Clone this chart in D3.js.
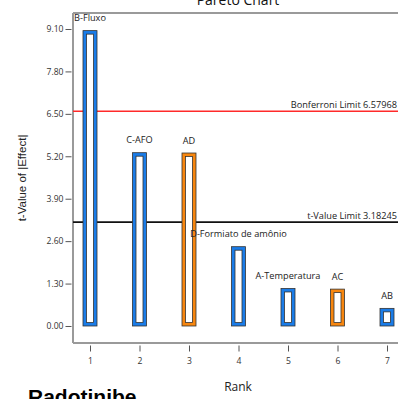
<!DOCTYPE html>
<html>
<head>
<meta charset="utf-8">
<script src="https://cdn.jsdelivr.net/npm/d3@7"></script>
<style>
  html, body { margin: 0; padding: 0; background: #fff; overflow: hidden; }
  svg { display: block; }
</style>
</head>
<body>
<div id="chart"></div>
<script>
// Effects ranked by |t|, with the two significance limits
const ranks = [1, 2, 3, 4, 5, 6, 7];
const effectNames = ["B-Fluxo", "C-AFO", "AD", "D-Formiato de amônio", "A-Temperatura", "AC", "AB"];
const tValues = [9.05, 5.31, 5.30, 2.43, 1.15, 1.13, 0.54];
const effectSign = ["pos", "pos", "neg", "pos", "pos", "neg", "pos"];
const yTicks = [0, 1.30, 2.60, 3.90, 5.20, 6.50, 7.80, 9.10];
const bonferroniLimit = 6.57968;
const tValueLimit = 3.18245;

const W = 398, H = 399;
const plotL = 73, plotR = 406, plotT = 13, plotB = 343;
const fontUI = "'Open Sans', 'DejaVu Sans', sans-serif";
const smallSize = 9.2;

const svg = d3.select("#chart").append("svg")
  .attr("width", W).attr("height", H);

const x = d3.scaleLinear().domain([1, 7]).range([90, 387]);
const y = d3.scaleLinear().domain([-0.521, 9.590]).range([plotB, plotT]);

const colors = { pos: "#1a7ce8", neg: "#f7860f" };

// title (sits partly above the canvas)
svg.append("text")
  .attr("x", 238).attr("y", 5)
  .attr("text-anchor", "middle")
  .attr("font-family", fontUI).attr("font-size", 14).attr("fill", "#111")
  .text("Pareto Chart");

// frame: top, left and bottom edges
const frame = svg.append("g").attr("stroke", "#9a9a9a").attr("stroke-width", 2).attr("fill", "none");
frame.append("line").attr("x1", plotL).attr("x2", plotR + 10).attr("y1", plotT).attr("y2", plotT);
frame.append("line").attr("x1", plotL).attr("x2", plotL).attr("y1", plotT).attr("y2", plotB);
frame.append("line").attr("x1", plotL).attr("x2", plotR + 10).attr("y1", plotB).attr("y2", plotB);

// y axis
const yAxis = d3.axisLeft(y).tickValues(yTicks).tickFormat(d3.format(".2f"))
  .tickSize(6).tickPadding(2);
const gy = svg.append("g").attr("transform", `translate(${plotL - 1.5},0)`).call(yAxis);
gy.select(".domain").remove();
gy.selectAll(".tick line").attr("stroke", "#555");
gy.selectAll(".tick text").attr("font-family", fontUI).attr("font-size", 8.6).attr("fill", "#333");

// x axis (ticks set just below the frame line)
const xAxis = d3.axisBottom(x).tickValues(ranks).tickFormat(d3.format("d"))
  .tickSize(6).tickPadding(6);
const gx = svg.append("g").attr("transform", `translate(0,${plotB + 2.5})`).call(xAxis);
gx.select(".domain").remove();
gx.selectAll(".tick line").attr("stroke", "#555");
gx.selectAll(".tick text").attr("font-family", fontUI).attr("font-size", 8.6).attr("fill", "#333");

// axis titles
svg.append("text")
  .attr("transform", `translate(26,178) rotate(-90)`)
  .attr("text-anchor", "middle")
  .attr("font-family", "'Liberation Sans', Arial, sans-serif").attr("font-size", 11.5).attr("fill", "#222")
  .text("t-Value of |Effect|");
svg.append("text")
  .attr("x", 238).attr("y", 391)
  .attr("text-anchor", "middle")
  .attr("font-family", fontUI).attr("font-size", 12).attr("fill", "#222")
  .text("Rank");

// limit lines
svg.append("line")
  .attr("x1", plotL).attr("x2", plotR + 10)
  .attr("y1", y(bonferroniLimit)).attr("y2", y(bonferroniLimit))
  .attr("stroke", "#ff2a2a").attr("stroke-width", 1.6);
svg.append("text")
  .attr("x", 397).attr("y", y(bonferroniLimit) - 3.5)
  .attr("text-anchor", "end")
  .attr("font-family", fontUI).attr("font-size", smallSize).attr("fill", "#222")
  .text("Bonferroni Limit " + bonferroniLimit);
svg.append("line")
  .attr("x1", plotL).attr("x2", plotR + 10)
  .attr("y1", y(tValueLimit)).attr("y2", y(tValueLimit))
  .attr("stroke", "#111").attr("stroke-width", 1.6);
svg.append("text")
  .attr("x", 397).attr("y", y(tValueLimit) - 3.5)
  .attr("text-anchor", "end")
  .attr("font-family", fontUI).attr("font-size", smallSize).attr("fill", "#222")
  .text("t-Value Limit " + tValueLimit);

// hollow bars: coloured band with a dark outline inside and out
const bw = 14, band = 3.5;
const data = ranks.map((r, i) => ({ r, name: effectNames[i], t: tValues[i], s: effectSign[i] }));
const bars = svg.append("g").selectAll("g").data(data).join("g");
bars.append("rect")
  .attr("x", d => x(d.r) - bw / 2)
  .attr("y", d => y(d.t))
  .attr("width", bw)
  .attr("height", d => y(0) - y(d.t))
  .attr("fill", d => colors[d.s])
  .attr("stroke", "#333").attr("stroke-width", 0.8);
bars.append("rect")
  .attr("x", d => x(d.r) - bw / 2 + band)
  .attr("y", d => y(d.t) + band)
  .attr("width", bw - 2 * band)
  .attr("height", d => Math.max(0, y(0) - y(d.t) - 2 * band))
  .attr("fill", "#fff")
  .attr("stroke", "#333").attr("stroke-width", 0.8);
bars.append("text")
  .attr("x", d => x(d.r))
  .attr("y", d => y(d.t) - 9.5)
  .attr("text-anchor", "middle")
  .attr("font-family", fontUI).attr("font-size", smallSize).attr("fill", "#222")
  .text(d => d.name);

// sample name below the chart
svg.append("text")
  .attr("x", 28).attr("y", 404)
  .attr("font-family", "'Liberation Sans', Arial, sans-serif").attr("font-weight", "bold")
  .attr("font-size", 21).attr("fill", "#000")
  .text("Radotinibe");
</script>
</body>
</html>
